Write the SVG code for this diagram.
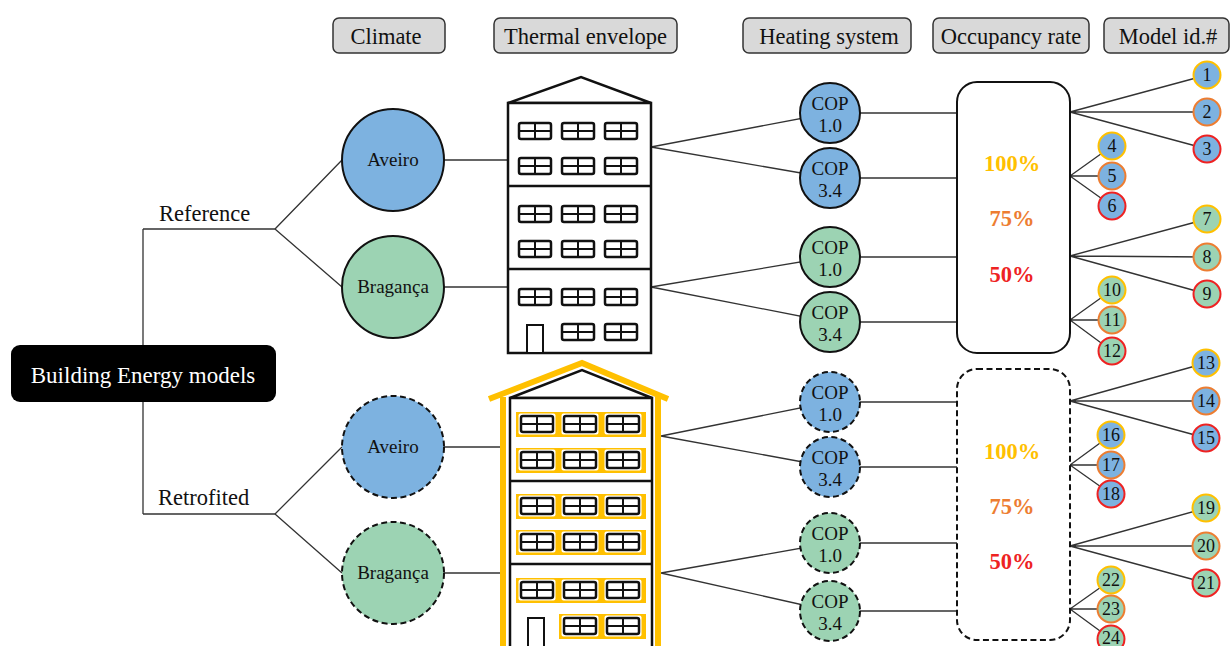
<svg xmlns="http://www.w3.org/2000/svg" xmlns:xlink="http://www.w3.org/1999/xlink" width="1231" height="646" viewBox="0 0 1231 646">
  <style>
    text { font-family: "Liberation Serif", "Times New Roman", serif; fill: #111; }
    .hdr rect { fill: #d9d9d9; stroke: #333; stroke-width: 1.5; }
    .hdr text { font-size: 22.5px; text-anchor: middle; }
    .wire { stroke: #333; stroke-width: 1.3; fill: none; }
    .blue { fill: #7db2e0; }
    .green { fill: #9cd3b3; }
    .solid { stroke: #111; stroke-width: 2; }
    .dash { stroke: #111; stroke-width: 2; stroke-dasharray: 6 3.5; }
    .clim { font-size: 19px; text-anchor: middle; }
    .cop { font-size: 19px; text-anchor: middle; }
    .pct { font-size: 22.5px; font-weight: bold; text-anchor: middle; }
    .id { stroke-width: 2; }
    text.num { font-size: 18px; text-anchor: middle; }
    .y { stroke: #ffc000; }
    .o { stroke: #ed7d31; }
    .r { stroke: #ee2222; }
    .bld { fill: #fff; stroke: #111; stroke-width: 2.5; }
    .ins { stroke: #ffc000; stroke-width: 6; fill: none; }
    .band { fill: #ffc000; }
    .branch { font-size: 22.5px; }
  </style>
  <defs>
    <g id="win">
      <rect x="0" y="0" width="32" height="16" rx="2" fill="#fff" stroke="#111" stroke-width="2.5"/>
      <path d="M16 0V16M0 8H32" stroke="#111" stroke-width="2"/>
    </g>
    <g id="winR">
      <rect x="-2.5" y="-2.5" width="37" height="21" rx="2" fill="#fff"/>
      <use xlink:href="#win"/>
    </g>
  </defs>

  <!-- column headers -->
  <g id="headers" class="hdr">
    <g id="hdr-climate"><rect x="333" y="18" width="112" height="35" rx="6"/><text x="386" y="44">Climate</text></g>
    <g id="hdr-envelope"><rect x="494" y="18" width="183" height="35" rx="6"/><text x="585.5" y="44">Thermal envelope</text></g>
    <g id="hdr-heating"><rect x="743" y="18" width="168" height="35" rx="6"/><text x="829" y="44">Heating system</text></g>
    <g id="hdr-occupancy"><rect x="933" y="18" width="156" height="35" rx="6"/><text x="1011" y="44">Occupancy rate</text></g>
    <g id="hdr-model"><rect x="1104" y="18" width="125" height="35" rx="6"/><text x="1168" y="44">Model id.#</text></g>
  </g>

  <!-- connectors -->
  <g id="connectors" class="wire">
    <path d="M143 229V514M143 229H275M143 514H275"/>
    <path d="M275 229L342 160M275 229L342 287M275 514L342 447M275 514L342 573"/>
    <path d="M393 160H510M393 287H510M393 447H503M393 573H503"/>
    <path d="M651 147L830 113M651 147L830 178M651 287L830 257M651 287L830 322"/>
    <path d="M661 436L830 402M661 436L830 467M661 573L830 543M661 573L830 611"/>
    <path d="M830 113H957M830 178H957M830 257H957M830 322H957"/>
    <path d="M830 402H957M830 467H957M830 543H957M830 611H957"/>
    <!-- model id fans, reference -->
    <path d="M1070 112L1207 75M1070 112L1207 112M1070 112L1207 149"/>
    <path d="M1070 176L1112 146M1070 176L1112 176M1070 176L1112 206"/>
    <path d="M1070 256L1207 219M1070 256L1207 257M1070 256L1207 294"/>
    <path d="M1070 320L1112 290M1070 320L1112 320M1070 320L1112 351"/>
    <!-- model id fans, retrofitted -->
    <path d="M1070 401L1206 363M1070 401L1206 401M1070 401L1206 438"/>
    <path d="M1070 465L1111 435M1070 465L1111 465M1070 465L1111 494"/>
    <path d="M1070 546L1206 508M1070 546L1206 546M1070 546L1206 583"/>
    <path d="M1070 609L1111 580M1070 609L1111 609M1070 609L1111 639"/>
  </g>

  <!-- root -->
  <g id="root">
    <rect x="11" y="345" width="265" height="57" rx="9" fill="#000"/>
    <text x="143" y="383" style="fill:#fff;font-size:23px;text-anchor:middle">Building Energy models</text>
  </g>
  <g id="branch-reference"><text class="branch" x="159" y="221">Reference</text></g>
  <g id="branch-retrofited"><text class="branch" x="158" y="505">Retrofited</text></g>

  <!-- climate nodes -->
  <g id="clim-ref-aveiro"><circle cx="393" cy="160" r="51" class="blue solid"/><text class="clim" x="393" y="166">Aveiro</text></g>
  <g id="clim-ref-braganca"><circle cx="393" cy="287" r="51" class="green solid"/><text class="clim" x="393" y="293">Bragança</text></g>
  <g id="clim-ret-aveiro"><circle cx="393" cy="447" r="51" class="blue dash"/><text class="clim" x="393" y="453">Aveiro</text></g>
  <g id="clim-ret-braganca"><circle cx="393" cy="573" r="51" class="green dash"/><text class="clim" x="393" y="579">Bragança</text></g>

  <!-- reference envelope building -->
  <g id="env-reference">
    <polygon points="508,103 581,77 651,103" class="bld" stroke-width="2"/>
    <rect x="508" y="103" width="143" height="250" class="bld"/>
    <path d="M508 186H651M508 269H651" stroke="#111" stroke-width="2.5"/>
    <use xlink:href="#win" x="519" y="123"/><use xlink:href="#win" x="562" y="123"/><use xlink:href="#win" x="605" y="123"/>
    <use xlink:href="#win" x="519" y="158"/><use xlink:href="#win" x="562" y="158"/><use xlink:href="#win" x="605" y="158"/>
    <use xlink:href="#win" x="519" y="206"/><use xlink:href="#win" x="562" y="206"/><use xlink:href="#win" x="605" y="206"/>
    <use xlink:href="#win" x="519" y="241"/><use xlink:href="#win" x="562" y="241"/><use xlink:href="#win" x="605" y="241"/>
    <use xlink:href="#win" x="519" y="289"/><use xlink:href="#win" x="562" y="289"/><use xlink:href="#win" x="605" y="289"/>
    <use xlink:href="#win" x="562" y="324"/><use xlink:href="#win" x="605" y="324"/>
    <rect x="527" y="325" width="16" height="28" fill="#fff" stroke="#111" stroke-width="2"/>
  </g>

  <!-- retrofitted envelope building (insulated) -->
  <g id="env-retrofitted">
    <polygon points="510,398 582,370 652,398" class="bld" stroke-width="2"/>
    <rect x="510" y="398" width="142" height="252" class="bld"/>
    <path d="M510 481H652M510 564H652" stroke="#111" stroke-width="2.5"/>
    <path d="M489 399L582 363L668 399" class="ins"/>
    <path d="M503 397V646M658 397V646" class="ins"/>
    <rect class="band" x="516" y="412" width="130" height="25"/>
    <rect class="band" x="516" y="448" width="130" height="25"/>
    <rect class="band" x="516" y="494" width="130" height="25"/>
    <rect class="band" x="516" y="530" width="130" height="25"/>
    <rect class="band" x="516" y="578" width="130" height="25"/>
    <rect class="band" x="559" y="614" width="87" height="25"/>
    <use xlink:href="#winR" x="521" y="416"/><use xlink:href="#winR" x="564" y="416"/><use xlink:href="#winR" x="607" y="416"/>
    <use xlink:href="#winR" x="521" y="452"/><use xlink:href="#winR" x="564" y="452"/><use xlink:href="#winR" x="607" y="452"/>
    <use xlink:href="#winR" x="521" y="498"/><use xlink:href="#winR" x="564" y="498"/><use xlink:href="#winR" x="607" y="498"/>
    <use xlink:href="#winR" x="521" y="534"/><use xlink:href="#winR" x="564" y="534"/><use xlink:href="#winR" x="607" y="534"/>
    <use xlink:href="#winR" x="521" y="582"/><use xlink:href="#winR" x="564" y="582"/><use xlink:href="#winR" x="607" y="582"/>
    <use xlink:href="#winR" x="564" y="618"/><use xlink:href="#winR" x="607" y="618"/>
    <rect x="528" y="618" width="16" height="32" fill="#fff" stroke="#111" stroke-width="2"/>
  </g>

  <!-- heating system nodes -->
  <g id="cop-ref-a1"><circle cx="830" cy="113" r="30" class="blue solid"/><text class="cop" x="830" y="110">COP</text><text class="cop" x="830" y="132">1.0</text></g>
  <g id="cop-ref-a3"><circle cx="830" cy="178" r="30" class="blue solid"/><text class="cop" x="830" y="175">COP</text><text class="cop" x="830" y="197">3.4</text></g>
  <g id="cop-ref-b1"><circle cx="830" cy="257" r="30" class="green solid"/><text class="cop" x="830" y="254">COP</text><text class="cop" x="830" y="276">1.0</text></g>
  <g id="cop-ref-b3"><circle cx="830" cy="322" r="30" class="green solid"/><text class="cop" x="830" y="319">COP</text><text class="cop" x="830" y="341">3.4</text></g>
  <g id="cop-ret-a1"><circle cx="830" cy="402" r="30" class="blue dash"/><text class="cop" x="830" y="399">COP</text><text class="cop" x="830" y="421">1.0</text></g>
  <g id="cop-ret-a3"><circle cx="830" cy="467" r="30" class="blue dash"/><text class="cop" x="830" y="464">COP</text><text class="cop" x="830" y="486">3.4</text></g>
  <g id="cop-ret-b1"><circle cx="830" cy="543" r="30" class="green dash"/><text class="cop" x="830" y="540">COP</text><text class="cop" x="830" y="562">1.0</text></g>
  <g id="cop-ret-b3"><circle cx="830" cy="611" r="30" class="green dash"/><text class="cop" x="830" y="608">COP</text><text class="cop" x="830" y="630">3.4</text></g>

  <!-- occupancy rate nodes -->
  <g id="occ-reference">
    <rect x="957" y="82" width="113" height="271" rx="20" fill="#fff" class="solid"/>
    <text class="pct" x="1012" y="171" style="fill:#ffc000">100%</text>
    <text class="pct" x="1012" y="226" style="fill:#ed7d31">75%</text>
    <text class="pct" x="1012" y="282" style="fill:#ee2222">50%</text>
  </g>
  <g id="occ-retrofitted">
    <rect x="957" y="369" width="113" height="271" rx="20" fill="#fff" class="dash"/>
    <text class="pct" x="1012" y="459" style="fill:#ffc000">100%</text>
    <text class="pct" x="1012" y="514" style="fill:#ed7d31">75%</text>
    <text class="pct" x="1012" y="569" style="fill:#ee2222">50%</text>
  </g>

  <!-- model ids -->
  <g id="model-ids" class="id">
    <g id="m1"><circle cx="1207" cy="75" r="13.5" class="blue y"/><text class="num" x="1207" y="81">1</text></g>
    <g id="m2"><circle cx="1207" cy="112" r="13.5" class="blue o"/><text class="num" x="1207" y="118">2</text></g>
    <g id="m3"><circle cx="1207" cy="149" r="13.5" class="blue r"/><text class="num" x="1207" y="155">3</text></g>
    <g id="m4"><circle cx="1112" cy="146" r="13.5" class="blue y"/><text class="num" x="1112" y="152">4</text></g>
    <g id="m5"><circle cx="1112" cy="176" r="13.5" class="blue o"/><text class="num" x="1112" y="182">5</text></g>
    <g id="m6"><circle cx="1112" cy="206" r="13.5" class="blue r"/><text class="num" x="1112" y="212">6</text></g>
    <g id="m7"><circle cx="1207" cy="219" r="13.5" class="green y"/><text class="num" x="1207" y="225">7</text></g>
    <g id="m8"><circle cx="1207" cy="257" r="13.5" class="green o"/><text class="num" x="1207" y="263">8</text></g>
    <g id="m9"><circle cx="1207" cy="294" r="13.5" class="green r"/><text class="num" x="1207" y="300">9</text></g>
    <g id="m10"><circle cx="1112" cy="290" r="13.5" class="green y"/><text class="num" x="1112" y="296">10</text></g>
    <g id="m11"><circle cx="1112" cy="320" r="13.5" class="green o"/><text class="num" x="1112" y="326">11</text></g>
    <g id="m12"><circle cx="1112" cy="351" r="13.5" class="green r"/><text class="num" x="1112" y="357">12</text></g>
    <g id="m13"><circle cx="1206" cy="363" r="13.5" class="blue y"/><text class="num" x="1206" y="369">13</text></g>
    <g id="m14"><circle cx="1206" cy="401" r="13.5" class="blue o"/><text class="num" x="1206" y="407">14</text></g>
    <g id="m15"><circle cx="1206" cy="438" r="13.5" class="blue r"/><text class="num" x="1206" y="444">15</text></g>
    <g id="m16"><circle cx="1111" cy="435" r="13.5" class="blue y"/><text class="num" x="1111" y="441">16</text></g>
    <g id="m17"><circle cx="1111" cy="465" r="13.5" class="blue o"/><text class="num" x="1111" y="471">17</text></g>
    <g id="m18"><circle cx="1111" cy="494" r="13.5" class="blue r"/><text class="num" x="1111" y="500">18</text></g>
    <g id="m19"><circle cx="1206" cy="508" r="13.5" class="green y"/><text class="num" x="1206" y="514">19</text></g>
    <g id="m20"><circle cx="1206" cy="546" r="13.5" class="green o"/><text class="num" x="1206" y="552">20</text></g>
    <g id="m21"><circle cx="1206" cy="583" r="13.5" class="green r"/><text class="num" x="1206" y="589">21</text></g>
    <g id="m22"><circle cx="1111" cy="580" r="13.5" class="green y"/><text class="num" x="1111" y="586">22</text></g>
    <g id="m23"><circle cx="1111" cy="609" r="13.5" class="green o"/><text class="num" x="1111" y="615">23</text></g>
    <g id="m24"><circle cx="1111" cy="639" r="13.5" class="green r"/><text class="num" x="1111" y="644">24</text></g>
  </g>
</svg>
